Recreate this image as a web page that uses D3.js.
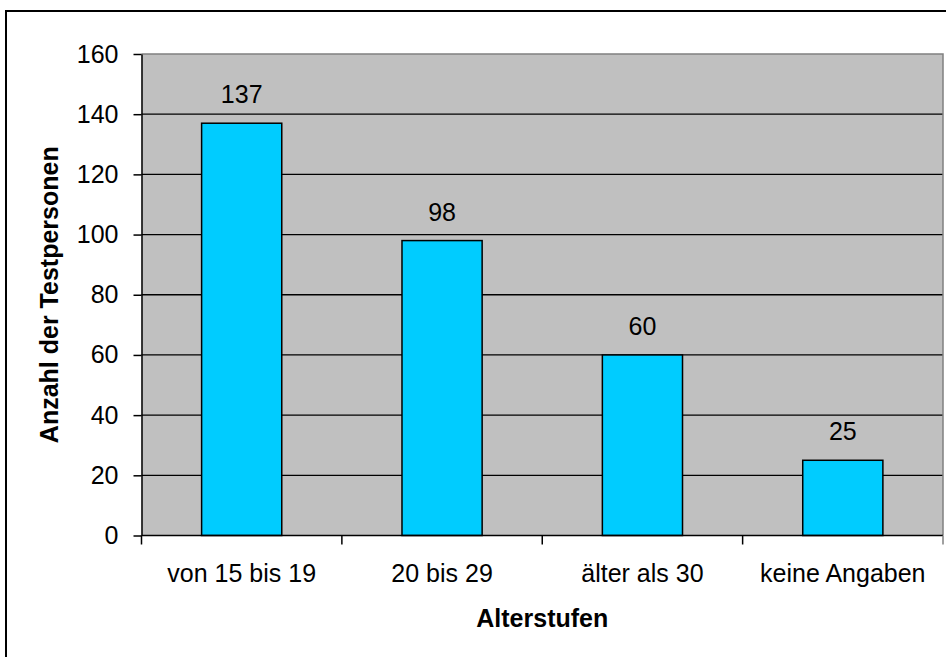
<!DOCTYPE html>
<html>
<head>
<meta charset="utf-8">
<script src="https://cdn.jsdelivr.net/npm/d3@7"></script>
<style>
  html, body { margin: 0; padding: 0; background: #fff; }
  svg { display: block; }
  text { font-family: "Liberation Sans", Arial, sans-serif; fill: #000; }
</style>
</head>
<body>
<svg id="chart" width="946" height="657"></svg>
<script>
// Altersverteilung der Testpersonen
const categories = ["von 15 bis 19", "20 bis 29", "älter als 30", "keine Angaben"];
const values = [137, 98, 60, 25];
const yTicks = [0, 20, 40, 60, 80, 100, 120, 140, 160];
const xTitle = "Alterstufen";
const yTitle = "Anzahl der Testpersonen";

const svg = d3.select("#chart");
const W = 946, H = 657;
const plot = { left: 141.5, right: 943, top: 54, bottom: 535.5 };
const fontSize = 25;

// outer chart frame (runs past the right and bottom edge)
svg.append("rect")
  .attr("x", 6).attr("y", 11)
  .attr("width", W + 20).attr("height", H + 20)
  .attr("fill", "#fff").attr("stroke", "#000").attr("stroke-width", 2);

const x = d3.scaleBand().domain(categories).range([plot.left, plot.right]).paddingInner(0.6).paddingOuter(0.3);
const xBand = d3.scaleBand().domain(categories).range([plot.left, plot.right]);
const y = d3.scaleLinear().domain([0, 160]).range([plot.bottom, plot.top]);

// plot background
svg.append("rect")
  .attr("x", plot.left).attr("y", plot.top)
  .attr("width", plot.right - plot.left).attr("height", plot.bottom - plot.top)
  .attr("fill", "#c0c0c0");

// horizontal gridlines
svg.append("g").selectAll("line")
  .data(yTicks.filter(d => d > 0 && d < 160))
  .join("line")
  .attr("x1", plot.left).attr("x2", plot.right)
  .attr("y1", d => y(d)).attr("y2", d => y(d))
  .attr("stroke", "#000").attr("stroke-width", 1.3);

// plot border (top and right in gray)
svg.append("path")
  .attr("d", `M${plot.left},${plot.top}H${plot.right}V${plot.bottom}`)
  .attr("fill", "none").attr("stroke", "#808080").attr("stroke-width", 1.5);

// bars
svg.append("g").selectAll("rect")
  .data(values)
  .join("rect")
  .attr("x", (d, i) => x(categories[i]))
  .attr("width", x.bandwidth())
  .attr("y", d => y(d))
  .attr("height", d => y(0) - y(d))
  .attr("fill", "#00ccff").attr("stroke", "#000").attr("stroke-width", 1.5);

// value labels
svg.append("g").selectAll("text")
  .data(values)
  .join("text")
  .attr("x", (d, i) => x(categories[i]) + x.bandwidth() / 2)
  .attr("y", d => y(d) - 20)
  .attr("text-anchor", "middle")
  .attr("font-size", fontSize)
  .text(d => d);

// y axis
const yAxis = d3.axisLeft(y).tickValues(yTicks).tickSize(8).tickPadding(15).tickSizeOuter(0);
const gy = svg.append("g").attr("transform", `translate(${plot.left},0)`).call(yAxis);
gy.select(".domain").attr("stroke", "#000").attr("stroke-width", 1.5);
gy.selectAll(".tick line").attr("stroke", "#000").attr("stroke-width", 1.5);
gy.selectAll(".tick text").attr("font-size", fontSize).attr("font-family", "Liberation Sans, Arial, sans-serif").attr("fill", "#000");

// x axis: line with tick marks between categories
const gx = svg.append("g");
gx.append("line")
  .attr("x1", plot.left).attr("x2", plot.right)
  .attr("y1", plot.bottom).attr("y2", plot.bottom)
  .attr("stroke", "#000").attr("stroke-width", 1.5);
const xTickPos = categories.map(c => xBand(c)).concat([plot.right]);
gx.selectAll("line.tick")
  .data(xTickPos)
  .join("line")
  .attr("class", "tick")
  .attr("x1", d => d).attr("x2", d => d)
  .attr("y1", plot.bottom).attr("y2", plot.bottom + 9)
  .attr("stroke", (d, i) => i === xTickPos.length - 1 ? "#808080" : "#000")
  .attr("stroke-width", 1.5);
gx.selectAll("text")
  .data(categories)
  .join("text")
  .attr("x", d => xBand(d) + xBand.bandwidth() / 2)
  .attr("y", 582)
  .attr("text-anchor", "middle")
  .attr("font-size", fontSize)
  .text(d => d);

// axis titles
svg.append("text")
  .attr("x", (plot.left + plot.right) / 2)
  .attr("y", 627)
  .attr("text-anchor", "middle")
  .attr("font-size", fontSize)
  .attr("font-weight", "bold")
  .text(xTitle);

svg.append("text")
  .attr("transform", `translate(58,${(plot.top + plot.bottom) / 2}) rotate(-90)`)
  .attr("text-anchor", "middle")
  .attr("font-size", fontSize)
  .attr("font-weight", "bold")
  .text(yTitle);
</script>
</body>
</html>
